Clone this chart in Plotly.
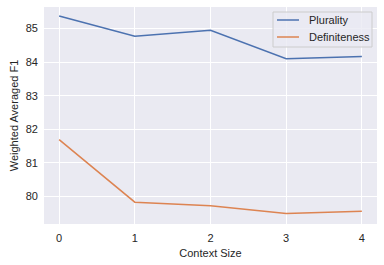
import plotly.graph_objects as go

context_size = [0, 1, 2, 3, 4]
plurality = [85.37, 84.77, 84.95, 84.10, 84.17]
definiteness = [81.69, 79.83, 79.72, 79.49, 79.56]
series_names = ["Plurality", "Definiteness"]
series_colors = ["#4c72b0", "#dd8452"]

fig = go.Figure()
for name, vals, col in zip(series_names, [plurality, definiteness], series_colors):
    fig.add_trace(go.Scatter(x=context_size, y=vals, mode="lines", name=name,
                             line=dict(color=col, width=1.5), showlegend=False))

# legend box drawn in plot-area (paper) fractions
L, R, T, B = 44, 7, 7, 41
W, H = 384, 265
pw, ph = W - L - R, H - T - B
def px(x):
    return (x - L) / pw
def py(y):
    return (H - B - y) / ph

fig.add_shape(type="rect", xref="paper", yref="paper",
              x0=px(273), x1=px(372), y0=py(47), y1=py(12),
              fillcolor="rgba(234,234,242,0.8)", line=dict(color="#cccccc", width=1), layer="above")
for i, (name, col) in enumerate(zip(series_names, series_colors)):
    yy = 20 + i * 17
    fig.add_shape(type="line", xref="paper", yref="paper",
                  x0=px(277), x1=px(299), y0=py(yy), y1=py(yy),
                  line=dict(color=col, width=1.5), layer="above")
    fig.add_annotation(xref="paper", yref="paper", x=px(307), y=py(yy), text=name,
                       showarrow=False, xanchor="left", yanchor="middle",
                       font=dict(size=11, color="#262626"))

font = "Liberation Sans, Arial, sans-serif"
fig.update_layout(
    width=W, height=H,
    margin=dict(l=L, r=R, t=T, b=B),
    paper_bgcolor="white", plot_bgcolor="#eaeaf2",
    font=dict(family=font, size=11, color="#262626"),
    showlegend=False,
    xaxis=dict(range=[-0.2, 4.2], tickvals=context_size, ticktext=[str(v) for v in context_size],
               showgrid=True, gridcolor="white", gridwidth=1, zeroline=False,
               title=dict(text="Context Size", font=dict(size=11), standoff=6),
               ticks="", ticklabelstandoff=6, automargin=False),
    yaxis=dict(range=[79.18, 85.64], tickvals=[80, 81, 82, 83, 84, 85],
               showgrid=True, gridcolor="white", gridwidth=1, zeroline=False,
               title=dict(text="Weighted Averaged F1", font=dict(size=11), standoff=4),
               ticks="", ticklabelstandoff=5, automargin=False),
)
fig.write_html("out.html", config={"displayModeBar": False},
               post_script="document.body.style.margin='0';document.body.style.overflow='hidden';")
